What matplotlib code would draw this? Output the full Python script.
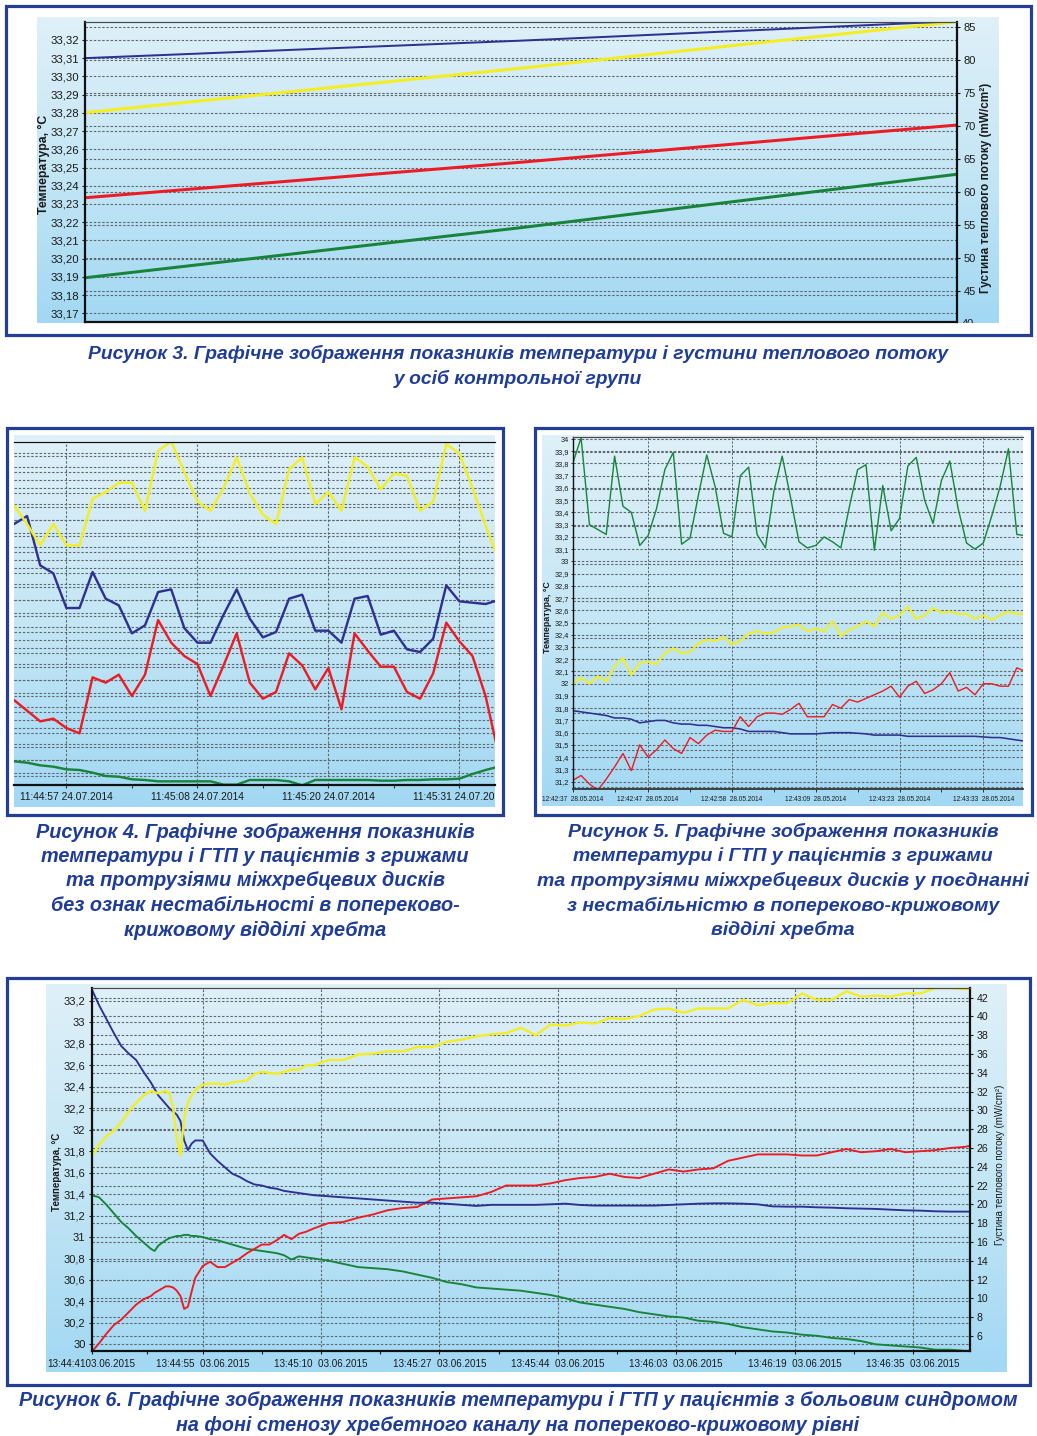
import numpy as np
import matplotlib
matplotlib.use("Agg")
import matplotlib.pyplot as plt
from matplotlib.patches import Rectangle
from matplotlib.colors import LinearSegmentedColormap
from matplotlib.transforms import blended_transform_factory

W, H = 1037, 1436
plt.rcParams['font.family'] = ['Liberation Sans', 'DejaVu Sans']
plt.rcParams['axes.unicode_minus'] = False

BLUE = '#2e3192'
YELLOW = '#f4ee1f'
RED = '#ec1c24'
GREEN = '#17843a'
FRAME = '#233f95'
CAPTION = '#1f3d98'
GRID = '#5f686e'
TXT = '#1a1a1a'

# ---------------- data ----------------
# Figure 3 (control group) - straight trends
f3_pos = [0.0, 0.5, 1.0]
f3_blue = [33.3100, 33.3196, 33.3303]
f3_yellow = [33.2801, 33.3045, 33.3300]
f3_red = [33.2334, 33.2529, 33.2733]
f3_green = [33.1895, 33.2170, 33.2463]
f3_temp_ticks = [33.17, 33.18, 33.19, 33.20, 33.21, 33.22, 33.23, 33.24,
                 33.25, 33.26, 33.27, 33.28, 33.29, 33.30, 33.31, 33.32]
f3_flux_ticks = [45, 50, 55, 60, 65, 70, 75, 80, 85]

# Figure 4
f4_yellow = [32.91, 32.77, 32.61, 32.77, 32.61, 32.61, 32.96, 33.01, 33.08, 33.08,
             32.87, 33.32, 33.39, 33.16, 32.94, 32.87, 33.04, 33.27, 33.00, 32.84,
             32.77, 33.18, 33.27, 32.92, 33.01, 32.87, 33.27, 33.20, 33.03, 33.15,
             33.13, 32.87, 32.94, 33.37, 33.30, 33.04, 32.76, 32.50]
f4_blue = [32.77, 32.83, 32.46, 32.40, 32.14, 32.14, 32.41, 32.21, 32.16, 31.95,
           32.01, 32.26, 32.28, 31.99, 31.88, 31.88, 32.09, 32.28, 32.06, 31.92,
           31.96, 32.21, 32.24, 31.97, 31.97, 31.88, 32.21, 32.23, 31.94, 31.97,
           31.83, 31.81, 31.91, 32.31, 32.19, 32.18, 32.17, 32.20]
f4_red = [31.45, 31.37, 31.29, 31.31, 31.24, 31.20, 31.62, 31.58, 31.64, 31.48,
          31.64, 32.05, 31.88, 31.78, 31.72, 31.48, 31.71, 31.95, 31.58, 31.46,
          31.51, 31.80, 31.71, 31.53, 31.69, 31.38, 31.95, 31.82, 31.70, 31.70,
          31.51, 31.46, 31.65, 32.03, 31.89, 31.78, 31.48, 31.04]
f4_green = [30.99, 30.98, 30.96, 30.95, 30.93, 30.925, 30.905, 30.88, 30.875, 30.855,
            30.85, 30.84, 30.84, 30.84, 30.84, 30.84, 30.815, 30.815, 30.85, 30.85,
            30.85, 30.84, 30.81, 30.85, 30.85, 30.85, 30.85, 30.85, 30.845, 30.845,
            30.85, 30.85, 30.855, 30.855, 30.86, 30.895, 30.925, 30.95]
f4_tick_idx = [4, 14, 24, 34]
f4_tick_labels = ['11:44:57 24.07.2014', '11:45:08 24.07.2014',
                  '11:45:20 24.07.2014', '11:45:31 24.07.2014']

# Figure 5
f5_green = [33.80, 34.01, 33.30, 33.26, 33.22, 33.86, 33.45, 33.40, 33.13, 33.21,
            33.43, 33.75, 33.89, 33.14, 33.19, 33.54, 33.87, 33.61, 33.23, 33.20,
            33.70, 33.77, 33.22, 33.11, 33.57, 33.86, 33.52, 33.16, 33.11, 33.13,
            33.20, 33.16, 33.11, 33.44, 33.75, 33.79, 33.09, 33.62, 33.25, 33.35,
            33.78, 33.85, 33.50, 33.31, 33.66, 33.82, 33.43, 33.15, 33.10, 33.15,
            33.37, 33.61, 33.92, 33.22, 33.21]
f5_yellow = [32.00, 32.05, 32.00, 32.06, 32.02, 32.14, 32.21, 32.07, 32.17, 32.18,
             32.16, 32.25, 32.29, 32.25, 32.26, 32.33, 32.36, 32.35, 32.38, 32.32,
             32.35, 32.41, 32.43, 32.41, 32.42, 32.46, 32.47, 32.48, 32.43, 32.45,
             32.43, 32.51, 32.39, 32.44, 32.47, 32.51, 32.47, 32.58, 32.53, 32.56,
             32.63, 32.53, 32.56, 32.62, 32.58, 32.59, 32.57, 32.57, 32.53, 32.56,
             32.52, 32.56, 32.59, 32.57, 32.57]
f5_red = [31.21, 31.25, 31.18, 31.13, 31.22, 31.32, 31.43, 31.29, 31.50, 31.40,
          31.46, 31.54, 31.47, 31.43, 31.56, 31.51, 31.58, 31.62, 31.61, 31.61,
          31.73, 31.65, 31.73, 31.76, 31.76, 31.75, 31.79, 31.84, 31.73, 31.73,
          31.73, 31.83, 31.80, 31.87, 31.85, 31.88, 31.91, 31.94, 31.98, 31.89,
          31.98, 32.02, 31.92, 31.95, 32.00, 32.09, 31.94, 31.97, 31.91, 32.00,
          32.00, 31.98, 31.98, 32.13, 32.10]
f5_blue = [31.78, 31.77, 31.76, 31.75, 31.74, 31.72, 31.72, 31.71, 31.68, 31.69,
           31.70, 31.70, 31.68, 31.67, 31.67, 31.66, 31.66, 31.65, 31.64, 31.64,
           31.63, 31.61, 31.61, 31.61, 31.61, 31.60, 31.59, 31.59, 31.59, 31.59,
           31.595, 31.60, 31.60, 31.60, 31.595, 31.59, 31.58, 31.58, 31.58, 31.58,
           31.57, 31.57, 31.57, 31.57, 31.57, 31.57, 31.57, 31.57, 31.57, 31.565,
           31.56, 31.56, 31.55, 31.54, 31.53]
f5_temp_ticks = [31.2, 31.3, 31.4, 31.5, 31.6, 31.7, 31.8, 31.9, 32.0, 32.1, 32.2,
                 32.3, 32.4, 32.5, 32.6, 32.7, 32.8, 32.9, 33.0, 33.1, 33.2, 33.3,
                 33.4, 33.5, 33.6, 33.7, 33.8, 33.9, 34.0]
f5_tick_idx = [0, 9, 19, 29, 39, 49]
f5_tick_labels = ['12:42:37  28.05.2014', '12:42:47  28.05.2014', '12:42:58  28.05.2014',
                  '12:43:09  28.05.2014', '12:43:23  28.05.2014', '12:43:33  28.05.2014']

# Figure 6
f6_idx = [0, 2, 4, 6, 8, 10, 12, 14, 16, 17, 18, 20,
          21, 22, 23, 24, 25, 26, 27, 28,
          30, 32, 34, 36, 38, 40, 42, 44, 46, 48, 50, 52, 54, 56, 58, 60,
          64, 68, 72, 76, 80, 84, 88, 92, 96, 100,
          104, 108, 112, 116, 120, 124, 128, 132, 136, 140,
          144, 148, 152, 156, 160, 164, 168, 172, 176, 180,
          184, 188, 192, 196, 200, 204, 208, 212, 216, 220,
          224, 228, 232, 236, 240]
f6_yellow = [31.75, 31.86, 31.94, 31.99, 32.07, 32.17, 32.25, 32.32, 32.36, 32.35, 32.34, 32.36,
             32.34, 32.20, 31.92, 31.76, 32.11, 32.25, 32.32, 32.37,
             32.42, 32.43, 32.43, 32.42, 32.44, 32.45, 32.46, 32.52, 32.54, 32.53, 32.52, 32.54,
             32.56, 32.56, 32.60, 32.60,
             32.65, 32.65, 32.70, 32.71, 32.73, 32.73, 32.77, 32.77, 32.82, 32.84,
             32.87, 32.89, 32.90, 32.95, 32.88, 32.98, 32.97, 33.00, 32.99, 33.04,
             33.03, 33.06, 33.12, 33.13, 33.09, 33.13, 33.13, 33.13, 33.21, 33.16,
             33.18, 33.18, 33.27, 33.21, 33.21, 33.29, 33.24, 33.25, 33.24, 33.27,
             33.27, 33.32, 33.32, 33.31, 33.32]
f6_blue = [33.31, 33.16, 33.03, 32.90, 32.78, 32.71, 32.65, 32.54, 32.44, 32.38, 32.32, 32.24,
           32.20, 32.17, 32.14, 32.08, 31.90, 31.81, 31.87, 31.90,
           31.90, 31.78, 31.71, 31.65, 31.59, 31.56, 31.52, 31.49, 31.48, 31.46, 31.45, 31.43,
           31.42, 31.41, 31.40, 31.39,
           31.38, 31.37, 31.36, 31.35, 31.34, 31.33, 31.32, 31.32, 31.31, 31.30,
           31.29, 31.30, 31.30, 31.30, 31.30, 31.305, 31.311, 31.299, 31.293, 31.293,
           31.293, 31.293, 31.293, 31.299, 31.305, 31.311, 31.314, 31.314, 31.311, 31.305,
           31.286, 31.283, 31.283, 31.277, 31.274, 31.268, 31.265, 31.262, 31.255, 31.249,
           31.246, 31.240, 31.237, 31.237, 31.237]
f6_red = [29.93, 30.01, 30.10, 30.18, 30.23, 30.30, 30.37, 30.42, 30.45, 30.48, 30.50, 30.54,
          30.54, 30.53, 30.50, 30.45, 30.33, 30.35, 30.49, 30.62,
          30.73, 30.77, 30.72, 30.72, 30.76, 30.80, 30.85, 30.89, 30.93, 30.93, 30.97, 31.02,
          30.98, 31.03, 31.05, 31.08,
          31.13, 31.14, 31.18, 31.21, 31.25, 31.27, 31.28, 31.35, 31.36, 31.37,
          31.38, 31.42, 31.48, 31.48, 31.48, 31.50, 31.53, 31.55, 31.56, 31.59,
          31.56, 31.55, 31.59, 31.63, 31.61, 31.63, 31.64, 31.71, 31.74, 31.77,
          31.77, 31.77, 31.76, 31.76, 31.79, 31.82, 31.79, 31.80, 31.82, 31.79,
          31.80, 31.81, 31.83, 31.84, 31.87]
f6_green = [31.39, 31.37, 31.30, 31.22, 31.14, 31.08, 31.01, 30.95, 30.89, 30.87, 30.92, 30.97,
            30.99, 31.00, 31.01, 31.01, 31.02, 31.02, 31.01, 31.01,
            31.00, 30.98, 30.97, 30.95, 30.93, 30.91, 30.89, 30.88, 30.87, 30.86, 30.85, 30.83,
            30.79, 30.82, 30.81, 30.80,
            30.78, 30.75, 30.72, 30.71, 30.70, 30.68, 30.65, 30.62, 30.58, 30.56,
            30.53, 30.52, 30.51, 30.50, 30.48, 30.46, 30.43, 30.39, 30.37, 30.35,
            30.33, 30.30, 30.28, 30.26, 30.25, 30.22, 30.21, 30.19, 30.16, 30.14,
            30.12, 30.11, 30.09, 30.08, 30.06, 30.05, 30.03, 30.00, 29.99, 29.98,
            29.97, 29.95, 29.95, 29.94, 29.935]
f6_temp_ticks = [30.0, 30.2, 30.4, 30.6, 30.8, 31.0, 31.2, 31.4, 31.6, 31.8,
                 32.0, 32.2, 32.4, 32.6, 32.8, 33.0, 33.2]
f6_flux_ticks = [6, 8, 10, 12, 14, 16, 18, 20, 22, 24, 26, 28, 30, 32, 34, 36, 38, 40, 42]
f6_tick_idx = [0, 30, 62, 94, 126, 158, 190, 222]
f6_tick_labels = ['13:44:4103.06.2015', '13:44:55  03.06.2015', '13:45:10  03.06.2015',
                  '13:45:27  03.06.2015', '13:45:44  03.06.2015', '13:46:03  03.06.2015',
                  '13:46:19  03.06.2015', '13:46:35  03.06.2015']

captions = {
    3: ['Рисунок 3. Графічне зображення показників температури і густини теплового потоку',
        'у осіб контрольної групи'],
    4: ['Рисунок 4. Графічне зображення показників',
        'температури і ГТП у пацієнтів з грижами',
        'та протрузіями міжхребцевих дисків',
        'без ознак нестабільності в попереково-',
        'крижовому відділі хребта'],
    5: ['Рисунок 5. Графічне зображення показників',
        'температури і ГТП у пацієнтів з грижами',
        'та протрузіями міжхребцевих дисків у поєднанні',
        'з нестабільністю в попереково-крижовому',
        'відділі хребта'],
    6: ['Рисунок 6. Графічне зображення показників температури і ГТП у пацієнтів з больовим синдромом',
        'на фоні стенозу хребетного каналу на попереково-крижовому рівні'],
}

# ---------------- helpers ----------------
PX = 0.72  # points per pixel at 100 dpi


def px_rect(x0, y0, x1, y1):
    return [x0 / W, 1 - y1 / H, (x1 - x0) / W, (y1 - y0) / H]


def comma(v, nd=None):
    s = f'{v:.{nd}f}' if nd is not None else f'{v:g}'
    return s.replace('.', ',')


fig = plt.figure(figsize=(W / 100, H / 100), dpi=100)
over = fig.add_axes([0, 0, 1, 1])
over.set_xlim(0, W)
over.set_ylim(H, 0)
over.axis('off')
over.set_zorder(10)

bg_cmap = LinearSegmentedColormap.from_list('bg', ['#dff0f8', '#c4e6f5', '#a2d8f3'])
grad = np.linspace(0, 1, 256)[:, None]


def add_bg(x0, y0, x1, y1):
    bg = fig.add_axes(px_rect(x0, y0, x1, y1))
    bg.imshow(grad, aspect='auto', cmap=bg_cmap, extent=[0, 1, 0, 1], origin='upper')
    bg.set_xlim(0, 1)
    bg.set_ylim(0, 1)
    bg.axis('off')
    return bg


def frame(x0, y0, x1, y1):
    over.add_patch(Rectangle((x0, y0), x1 - x0, y1 - y0, fill=False,
                             edgecolor=FRAME, lw=3.2 * PX))


def style_plot(ax, twin, left=True, right=True, bottom=True):
    ax.set_zorder(twin.get_zorder() + 1)
    ax.patch.set_visible(False)
    twin.patch.set_visible(False)
    for s in twin.spines.values():
        s.set_visible(False)
    ax.spines['top'].set_color('#4a4a4a')
    ax.spines['top'].set_linewidth(1.2 * PX)
    for name, on in (('left', left), ('right', right), ('bottom', bottom)):
        ax.spines[name].set_visible(on)
        ax.spines[name].set_color('#111111')
        ax.spines[name].set_linewidth(2.2 * PX)
    ax.yaxis.grid(True, ls=(0, (2.2, 1.6)), color=GRID, lw=1.1 * PX)
    twin.yaxis.grid(True, ls=(0, (2.2, 1.6)), color=GRID, lw=1.1 * PX)


def caption(lines, xc, y0, dy=24.5, size=13.9):
    for i, line in enumerate(lines):
        over.text(xc, y0 + i * dy, line, ha='center', va='center', fontsize=size,
                  fontweight='bold', fontstyle='italic', color=CAPTION)


# ================= Figure 3 =================
frame(5.7, 5.7, 1030.5, 335)
bg3 = add_bg(37, 17, 999, 323)
ax3 = fig.add_axes(px_rect(85, 21.7, 957, 321.7))
ax3b = ax3.twinx()
style_plot(ax3, ax3b)
ax3.set_xlim(0, 1)
ax3.set_ylim(33.1654, 33.3300)
ax3b.set_ylim(40.3, 85.76)
ax3.set_xticks([])
ax3.set_yticks(f3_temp_ticks, labels=[comma(v, 2) for v in f3_temp_ticks])
ax3b.set_yticks(f3_flux_ticks, labels=[str(v) for v in f3_flux_ticks])
ax3.tick_params(axis='y', length=2, width=0.8, pad=2, labelsize=8.2, colors=TXT)
ax3b.tick_params(axis='y', length=2.5, width=0.8, pad=2, labelsize=8.0, colors=TXT)
ax3.plot(f3_pos, f3_green, color=GREEN, lw=3.0 * PX, solid_capstyle='butt')
ax3.plot(f3_pos, f3_red, color=RED, lw=3.0 * PX, solid_capstyle='butt')
ax3.plot(f3_pos, f3_yellow, color=YELLOW, lw=3.0 * PX, solid_capstyle='butt')
ax3.plot(f3_pos, f3_blue, color=BLUE, lw=2.0 * PX, solid_capstyle='butt')
t40 = ax3b.text(1.0054, 40, '40', transform=blended_transform_factory(ax3b.transAxes, ax3b.transData),
                ha='left', va='center', fontsize=8.0, color=TXT, clip_on=True)
t40.set_clip_box(bg3.bbox)
over.text(44, 164, 'Температура, °C', rotation=90, ha='center', va='center',
          fontsize=8.8, fontweight='bold', color=TXT)
over.text(986, 188, 'Густина теплового потоку (mW/cm²)', rotation=90, ha='center', va='center',
          fontsize=8.5, fontweight='bold', color=TXT)
caption(captions[3], 518, 354)

# ================= Figure 4 =================
frame(6.7, 428.3, 503.3, 815)
bg4 = add_bg(14, 435, 495, 807)
ax4 = fig.add_axes(px_rect(14, 441.7, 495, 785))
ax4b = ax4.twinx()
style_plot(ax4, ax4b, left=False, right=False)
ax4.spines['top'].set_color('#111111')
ax4.set_xlim(0, 36.72)
ax4.set_ylim(30.8125, 33.3875)
ax4b.set_ylim(16.875, 59.79)
ax4.set_yticks(np.arange(30.9, 33.39, 0.1))
ax4b.set_yticks(np.arange(18, 59, 2))
ax4.tick_params(axis='y', length=0, labelleft=False)
ax4b.tick_params(axis='y', length=0, labelright=False)
ax4.set_xticks(f4_tick_idx)
ax4.set_xticks([9, 19, 29], minor=True)
ax4.tick_params(axis='x', which='both', labelbottom=False, length=2.5, width=0.8, color='#333333')
ax4.xaxis.grid(True, ls=(0, (2.2, 1.6)), color=GRID, lw=1.1 * PX)
x4 = np.arange(len(f4_yellow))
for ys, c in ((f4_green, GREEN), (f4_red, RED), (f4_blue, BLUE), (f4_yellow, YELLOW)):
    ax4.plot(x4, ys, color=c, lw=2.4 * PX)
tr4 = blended_transform_factory(ax4.transData, over.transData)
for xi, lab in zip(f4_tick_idx, f4_tick_labels):
    t = over.text(xi, 797, lab, transform=tr4, ha='center', va='center',
                  fontsize=7.4, color=TXT, clip_on=True)
    t.set_clip_box(bg4.bbox)
caption(captions[4], 255, 832, size=14.3)

# ================= Figure 5 =================
frame(535, 428.3, 1031.7, 815)
bg5 = add_bg(542, 435, 1023, 806)
ax5 = fig.add_axes(px_rect(572.7, 437.3, 1022.7, 789.3))
ax5b = ax5.twinx()
style_plot(ax5, ax5b, right=False)
ax5.spines['left'].set_linewidth(1.4 * PX)
ax5.spines['bottom'].set_linewidth(1.8 * PX)
ax5.spines['bottom'].set_color('#333333')
ax5.set_xlim(0, 53.7)
ax5.set_ylim(31.137, 34.014)
ax5b.set_ylim(0.949, 10.386)
ax5b.set_yticks(np.arange(1, 11, 1))
ax5b.tick_params(axis='y', length=0, labelright=False)
ax5.set_yticks(f5_temp_ticks, labels=[comma(v) for v in f5_temp_ticks])
ax5.tick_params(axis='y', length=1.5, width=0.6, pad=1.2, labelsize=5.3, colors=TXT)
ax5.set_xticks(f5_tick_idx, labels=f5_tick_labels)
ax5.set_xticks([5, 14, 24, 34, 44], minor=True)
ax5.tick_params(axis='x', which='both', length=2, width=0.6, pad=2.5, labelsize=4.7, colors=TXT)
ax5.xaxis.grid(True, ls=(0, (2.2, 1.6)), color=GRID, lw=1.0 * PX)
x5 = np.arange(len(f5_green))
ax5.plot(x5, f5_blue, color=BLUE, lw=1.6 * PX)
ax5.plot(x5, f5_red, color=RED, lw=1.4 * PX)
ax5.plot(x5, f5_yellow, color=YELLOW, lw=2.0 * PX)
ax5.plot(x5, f5_green, color=GREEN, lw=1.4 * PX)
over.text(547, 617, 'Температура, °C', rotation=90, ha='center', va='center',
          fontsize=6.4, fontweight='bold', color=TXT)
caption(captions[5], 783, 832, size=14.0)

# ================= Figure 6 =================
frame(6.7, 978.3, 1030, 1384.5)
bg6 = add_bg(46, 984, 1007, 1372)
ax6 = fig.add_axes(px_rect(91.7, 988.3, 970, 1351))
ax6b = ax6.twinx()
style_plot(ax6, ax6b)
ax6.set_xlim(0, 237.4)
ax6.set_ylim(29.938, 33.318)
ax6b.set_ylim(4.4, 43.0)
ax6.set_yticks(f6_temp_ticks, labels=[comma(v) for v in f6_temp_ticks])
ax6b.set_yticks(f6_flux_ticks, labels=[str(v) for v in f6_flux_ticks])
ax6.tick_params(axis='y', length=2, width=0.8, pad=2.5, labelsize=8, colors=TXT)
ax6b.tick_params(axis='y', length=2, width=0.8, pad=2.5, labelsize=7.6, colors=TXT)
ax6.set_xticks(f6_tick_idx, labels=f6_tick_labels)
ax6.set_xticks([15, 46, 78, 110, 142, 174, 206], minor=True)
ax6.tick_params(axis='x', which='both', length=2.5, width=0.8, pad=3, labelsize=7.1, colors=TXT)
ax6.xaxis.grid(True, ls=(0, (2.2, 1.6)), color=GRID, lw=1.1 * PX)
ax6.plot(f6_idx, f6_green, color=GREEN, lw=1.9 * PX)
ax6.plot(f6_idx, f6_red, color=RED, lw=1.9 * PX)
ax6.plot(f6_idx, f6_blue, color=BLUE, lw=1.9 * PX)
ax6.plot(f6_idx, f6_yellow, color=YELLOW, lw=2.3 * PX)
over.text(57, 1172, 'Температура, °C', rotation=90, ha='center', va='center',
          fontsize=7.0, fontweight='bold', color=TXT)
over.text(1000, 1165, 'Густина теплового потоку (mW/cm²)', rotation=90, ha='center',
          va='center', fontsize=7.0, color=TXT)
caption(captions[6], 518, 1401, size=14.2)

fig.savefig('out.png', dpi=100)
